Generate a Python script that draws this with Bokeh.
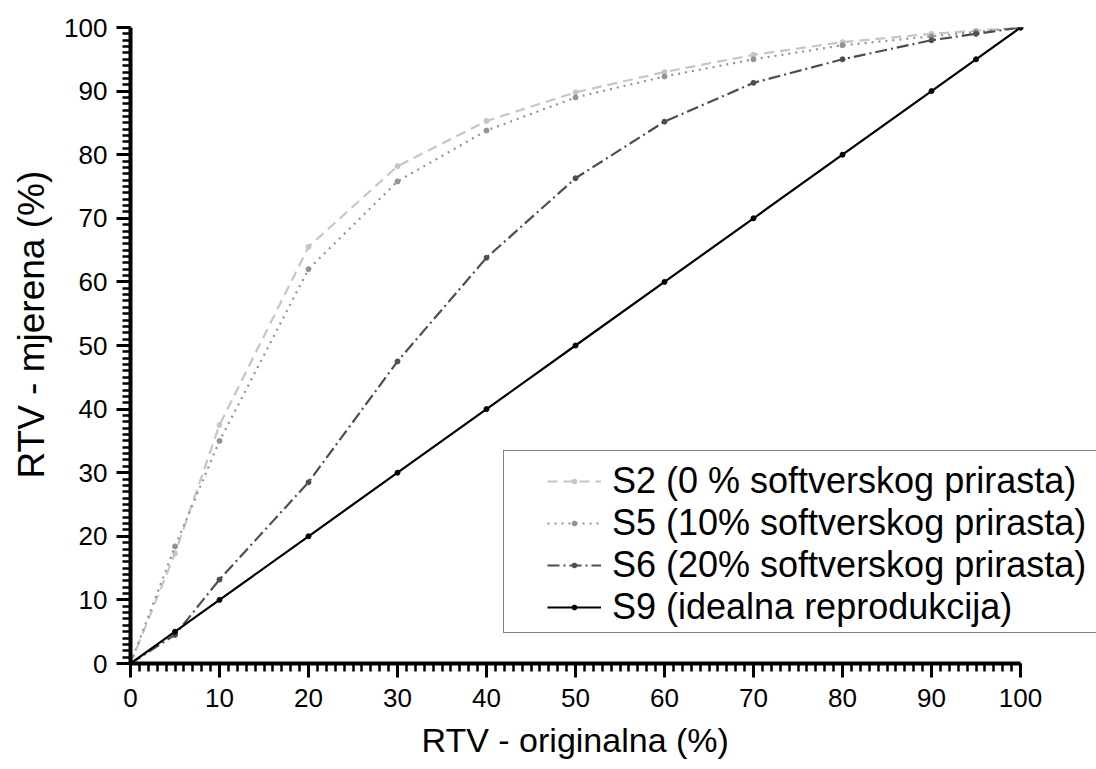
from bokeh.plotting import figure
from bokeh.models import Range1d, FixedTicker, Legend, LegendItem, Title
from bokeh.embed import file_html
from bokeh.resources import INLINE

x_vals = [0, 5, 10, 20, 30, 40, 50, 60, 70, 80, 90, 95, 100]
s2 = [0, 17.3, 37.5, 65.5, 78.2, 85.3, 89.8, 93.0, 95.7, 97.7, 99.0, 99.5, 100]
s5 = [0, 18.4, 35.0, 62.0, 75.8, 83.8, 89.0, 92.3, 95.0, 97.2, 98.6, 99.3, 100]
s6 = [0, 4.5, 13.2, 28.5, 47.5, 63.8, 76.3, 85.2, 91.3, 95.0, 98.0, 99.0, 100]
s9 = [0, 5, 10, 20, 30, 40, 50, 60, 70, 80, 90, 95, 100]

major_ticks = [0, 10, 20, 30, 40, 50, 60, 70, 80, 90, 100]
minor_ticks = list(range(0, 101))

labels = ["S2 (0 % softverskog prirasta)", "S5 (10% softverskog prirasta)",
          "S6 (20% softverskog prirasta)", "S9 (idealna reprodukcija)"]
colors = ["#c6c6c6", "#939393", "#4e4e4e", "#000000"]
dashes = ["10 6", "2 5", "12 4 2 4", "solid"]

X_TITLE = "RTV - originalna (%)"
Y_TITLE = "RTV - mjerena (%)"

FONT = "Liberation Sans"

# frame spans to the right edge of the canvas so the legend box can run off it;
# the axes themselves stop at 100 via bounds
FRAME_W = 1096 - 130
X_END = 100 * FRAME_W / 890.0

p = figure(width=1096, height=768, output_backend="svg", toolbar_location=None,
           x_range=Range1d(0, X_END), y_range=Range1d(0, 100),
           min_border_left=130, min_border_right=0, min_border_top=27, min_border_bottom=105)
p.outline_line_color = None
p.xgrid.visible = False
p.ygrid.visible = False

for ax in (p.xaxis[0], p.yaxis[0]):
    ax.ticker = FixedTicker(ticks=major_ticks, minor_ticks=minor_ticks)
    ax.bounds = (0, 100)
    ax.axis_line_width = 4
    ax.axis_line_color = "black"
    ax.major_tick_line_width = 3
    ax.major_tick_line_color = "black"
    ax.minor_tick_line_width = 2.5
    ax.minor_tick_line_color = "black"
    ax.major_tick_in = 0
    ax.major_tick_out = 14
    ax.minor_tick_in = 0
    ax.minor_tick_out = 8
    ax.major_label_text_font = FONT
    ax.major_label_text_font_size = "26px"
    ax.major_label_text_color = "black"

p.xaxis.major_label_standoff = 11
p.yaxis.major_label_standoff = 9

xt = Title(text=X_TITLE, align="left", offset=291, text_font=FONT,
           text_font_size="34px", text_font_style="normal", text_color="black",
           standoff=19, vertical_align="bottom")
p.add_layout(xt, "below")
yt = Title(text=Y_TITLE, align="left", offset=185, text_font=FONT,
           text_font_size="37px", text_font_style="normal", text_color="black",
           standoff=16, vertical_align="top")
p.add_layout(yt, "left")

items = []
for ys, c, d, lab in zip([s2, s5, s6, s9], colors, dashes, labels):
    r1 = p.line(x_vals, ys, line_color=c, line_width=2.2, line_dash=d)
    r2 = p.scatter(x_vals, ys, size=5, fill_color=c, line_color=c)
    items.append(LegendItem(label=lab, renderers=[r1, r2]))

# frame of the legend
dummy = p.scatter([], [], size=1, fill_alpha=0, line_alpha=0)
box = Legend(items=[LegendItem(label=" ", renderers=[dummy])], location=(373, 30))
box.padding = 0
box.margin = 0
box.glyph_width = 10
box.glyph_height = 181
box.label_height = 181
box.label_width = 700
box.label_standoff = 0
box.border_line_color = "black"
box.border_line_width = 1.2
box.background_fill_color = "white"
box.background_fill_alpha = 1
p.add_layout(box, "center")

legend = Legend(items=items, location=(417, 35))
legend.label_text_font = FONT
legend.label_text_font_size = "36px"
legend.label_text_color = "black"
legend.glyph_width = 54
legend.glyph_height = 12
legend.label_height = 40
legend.spacing = 0
legend.padding = 0
legend.margin = 0
legend.label_standoff = 11
legend.border_line_color = None
legend.background_fill_alpha = 0
p.add_layout(legend, "center")

open("out.html", "w").write(file_html(p, INLINE))
